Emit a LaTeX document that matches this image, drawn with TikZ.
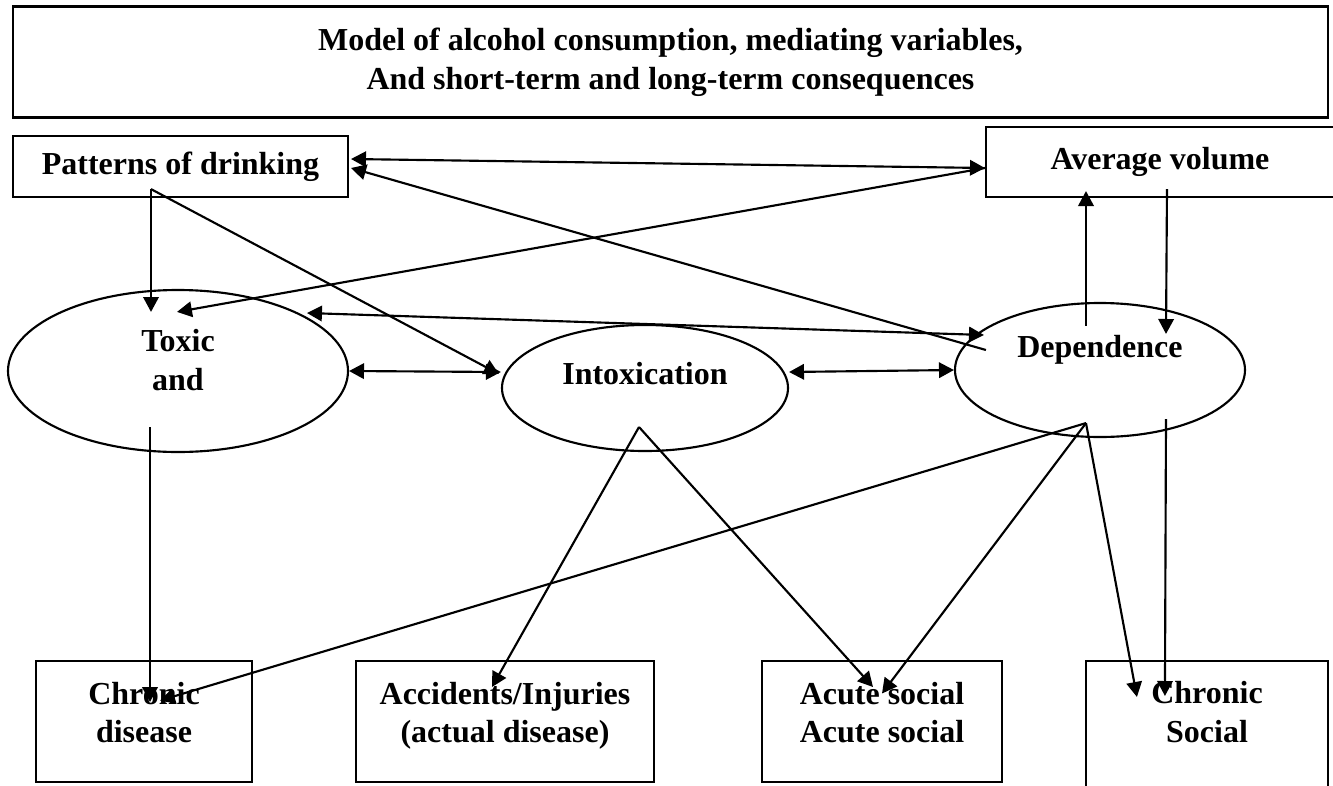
\documentclass[tikz,border=0pt]{standalone}
\usepackage{fontspec}
\setmainfont{Liberation Serif}
\usetikzlibrary{shapes.geometric, arrows.meta, calc}

\tikzstyle{base} = [font=\fontsize{12pt}{14.5pt}\selectfont\bfseries, align=center, line width=0.8pt]
\tikzstyle{titlebox} = [base, rectangle, draw=black, minimum width=493.1pt, minimum height=41.6pt]
\tikzstyle{inputbox} = [base, rectangle, draw=black, minimum height=22.9pt]
\tikzstyle{oval} = [base, ellipse, draw=black, inner sep=0pt]
\tikzstyle{outcome} = [base, rectangle, draw=black, minimum height=45.4pt, text depth=6.75pt]
\tikzstyle{arrow} = [line width=0.8pt, -{Triangle[length=5.6pt,width=5.8pt]}]
\tikzstyle{dblarrow} = [line width=0.8pt, {Triangle[length=5.6pt,width=5.8pt]}-{Triangle[length=5.6pt,width=5.8pt]}]

\begin{document}
\begin{tikzpicture}[x=0.375pt, y=-0.375pt]
      \useasboundingbox (0,0) rectangle (1333,786);
      % Nodes
      \node (title) [titlebox] at (670.5,62) {Model of alcohol consumption, mediating variables,\\And short-term and long-term consequences};
      \node (patterns) [inputbox, minimum width=125.6pt] at (180.5,166.5) {Patterns of drinking};
      \node (avgvol) [inputbox, minimum width=130.5pt, minimum height=26.25pt] at (1160,162) {Average volume};
      \node (toxic) [oval, minimum width=127.5pt, minimum height=60.75pt, text depth=8.25pt] at (178,371) {Toxic\\and};
      \node (intox) [oval, minimum width=107.25pt, minimum height=47.25pt, text depth=11.25pt] at (645,388) {Intoxication};
      \node (dep) [oval, minimum width=108.75pt, minimum height=50.25pt, text depth=17.6pt] at (1100,370) {Dependence};
      \node (chrdis) [outcome, minimum width=81pt] at (144,721.5) {Chronic\\disease};
      \node (accid) [outcome, minimum width=111.75pt] at (505,721.5) {Accidents/Injuries\\(actual disease)};
      \node (acute) [outcome, minimum width=90pt] at (882,721.5) {Acute social\\Acute social};
      \node (chrsoc) [outcome, minimum width=90.75pt, minimum height=60pt, text depth=21.75pt] at (1207,741) {Chronic\\Social};
      % Fork points
      \coordinate (patfork) at ($(patterns.south)+(-29.5,-9)$);
      \coordinate (intoxfork) at ($(intox.center)+(-6,39)$);
      \coordinate (depfork) at ($(dep.south)+(-14,-15)$);
      % Arrows
      \draw [dblarrow] ($(patterns.east)+(2,-7.5)$) -- ($(avgvol.west)+(0,6)$);
      \draw [arrow] ($(avgvol.west)+(0,6)$) -- ($(toxic.north)+(-1,23)$);
      \draw [arrow] (patfork) -- ($(toxic.north)+(-27,23)$);
      \draw [arrow] (patfork) -- ($(intox.west)+(-2,-14)$);
      \draw [arrow] ($(dep.west)+(32,-20)$) -- ($(patterns.east)+(2,1.5)$);
      \draw [dblarrow] ($(toxic.center)+(129,-58)$) -- ($(dep.west)+(30,-35)$);
      \draw [dblarrow] (toxic.east) -- ($(intox.west)+(0,-16)$);
      \draw [dblarrow] ($(intox.east)+(0,-16)$) -- (dep.west);
      \draw [arrow] ($(dep.north)+(-14,24)$) -- ($(avgvol.south)+(-74,-7)$);
      \draw [arrow] ($(avgvol.south)+(7,-9)$) -- ($(dep.north)+(66,32)$);
      \draw [arrow] ($(toxic.center)+(-28,56)$) -- ($(chrdis.center)+(6,-19.5)$);
      \draw [arrow] (intoxfork) -- ($(accid.center)+(-13,-34.5)$);
      \draw [arrow] (intoxfork) -- ($(acute.center)+(-9,-34.5)$);
      \draw [arrow] (depfork) -- ($(chrdis.center)+(16,-21)$);
      \draw [arrow] (depfork) -- ($(acute.center)+(0,-28)$);
      \draw [arrow] (depfork) -- ($(chrsoc.north west)+(52,37)$);
      \draw [arrow] ($(dep.south)+(66,-19)$) -- ($(chrsoc.north west)+(80,36)$);
    \end{tikzpicture}
\end{document}
